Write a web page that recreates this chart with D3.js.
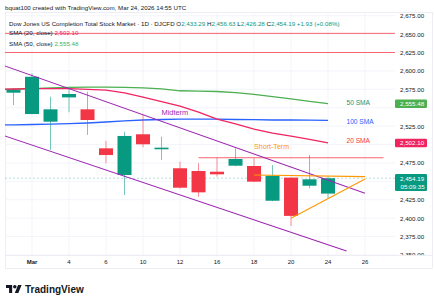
<!DOCTYPE html>
<html>
<head>
<meta charset="utf-8">
<script src="https://cdn.jsdelivr.net/npm/d3@7"></script>
<style>
  body { margin: 0; background: #fff; }
  svg { display: block; font-family: "Liberation Sans", Arial, sans-serif; }
</style>
</head>
<body>
<svg id="chart" width="434" height="300"></svg>
<script>
// trading days on the time scale (incl. the empty future slots)
var tradingDays = ["2026-02-26","2026-02-27","2026-03-02","2026-03-03","2026-03-04","2026-03-05",
  "2026-03-06","2026-03-09","2026-03-10","2026-03-11","2026-03-12","2026-03-13","2026-03-16",
  "2026-03-17","2026-03-18","2026-03-19","2026-03-20","2026-03-23","2026-03-24","2026-03-25",
  "2026-03-26","2026-03-27"];

// daily candles
var candleDates = ["2026-02-27","2026-03-02","2026-03-03","2026-03-04","2026-03-05","2026-03-06",
  "2026-03-09","2026-03-10","2026-03-11","2026-03-12","2026-03-13","2026-03-16","2026-03-17",
  "2026-03-18","2026-03-19","2026-03-20","2026-03-23","2026-03-24"];
var opens  = [2570.4, 2541.4, 2531.0, 2564.0, 2547.8, 2494.8, 2458.6, 2513.9, 2493.5, 2467.7, 2464.0, 2463.0, 2471.2, 2470.8, 2423.6, 2455.0, 2444.0, 2433.29];
var highs  = [2575.0, 2596.7, 2565.0, 2575.0, 2571.8, 2504.8, 2517.4, 2540.0, 2510.6, 2476.6, 2474.5, 2482.0, 2494.8, 2481.3, 2472.0, 2455.5, 2485.7, 2456.63];
var lows   = [2553.7, 2541.0, 2492.5, 2543.8, 2513.0, 2474.5, 2431.4, 2496.2, 2479.0, 2440.0, 2429.0, 2456.3, 2470.5, 2449.0, 2423.0, 2389.3, 2440.5, 2426.28];
var closes = [2574.0, 2592.0, 2547.8, 2568.6, 2533.3, 2485.7, 2511.6, 2500.3, 2495.7, 2441.3, 2435.0, 2459.5, 2480.3, 2449.5, 2457.6, 2403.0, 2452.7, 2454.19];

// moving averages
var smaDates = ["2026-02-26"].concat(candleDates);
var sma20  = [2575.0, 2575.4, 2576.0, 2576.0, 2576.0, 2575.0, 2574.0, 2570.0, 2564.5, 2558.4, 2552.0, 2544.0, 2534.6, 2528.0, 2521.0, 2515.6, 2511.5, 2507.0, 2502.10];
var sma50  = [2574.5, 2575.0, 2576.0, 2577.0, 2577.5, 2578.0, 2578.0, 2577.5, 2577.0, 2575.5, 2573.0, 2572.5, 2572.0, 2570.5, 2568.0, 2565.0, 2562.0, 2558.5, 2555.48];
var sma100 = [2526.5, 2526.8, 2527.2, 2527.6, 2528.3, 2529.2, 2530.6, 2532.0, 2533.3, 2534.0, 2534.6, 2534.6, 2534.4, 2534.0, 2533.7, 2533.3, 2533.3, 2533.0, 2532.9];

// drawings: [date, price] pairs
var midtermUpper   = [["2026-02-26", 2611.4], ["2026-03-26", 2433.7]];
var midtermLower   = [["2026-02-26", 2516.1], ["2026-03-25", 2355.2]];
var shortTermTop   = [["2026-03-18", 2458.6], ["2026-03-26", 2456.3]];
var shortTermBase  = [["2026-03-20", 2399.7], ["2026-03-26", 2453.1]];
var resistanceLine = [["2026-03-13", 2482.0], ["2026-03-27", 2482.0]];
var levelPrices = [2651, 2625];

// axis ticks
var priceTicks = d3.range(2350, 2676, 25);
var timeTickDates  = ["2026-03-02","2026-03-04","2026-03-06","2026-03-10","2026-03-12","2026-03-16","2026-03-18","2026-03-20","2026-03-24","2026-03-26"];
var timeTickLabels = ["Mar","4","6","10","12","16","18","20","24","26"];

(function() {
var green = "#089981", red = "#f23645";

var svg = d3.select("#chart");
var pLeft = 5, pRight = 395, pTop = 12, pBottom = 255;

function idx(d) { return tradingDays.indexOf(d); }

var x = d3.scaleLinear().domain([0.54, 21.62]).range([pLeft, pRight]);
var y = d3.scaleLinear().domain([2350, 2675]).range([254.9, 15.7]);

var defs = svg.append("defs");
defs.append("clipPath").attr("id", "plot")
  .append("rect").attr("x", pLeft).attr("y", pTop).attr("width", pRight - pLeft).attr("height", pBottom - pTop);
defs.append("clipPath").attr("id", "axis")
  .append("rect").attr("x", pRight).attr("y", pTop).attr("width", 434 - pRight).attr("height", pBottom - pTop);

// frame
svg.append("rect").attr("x", pLeft + 0.5).attr("y", pTop + 0.5).attr("width", 432 - pLeft).attr("height", 268 - pTop)
  .attr("fill", "none").attr("stroke", "#e0e3eb").attr("stroke-width", 0.6);
svg.append("line").attr("x1", pLeft).attr("x2", 432).attr("y1", pBottom + 0.5).attr("y2", pBottom + 0.5)
  .attr("stroke", "#e0e3eb").attr("stroke-width", 0.6);

// grid
var grid = svg.append("g").attr("clip-path", "url(#plot)");
grid.selectAll("line.h").data(priceTicks).enter().append("line")
  .attr("x1", pLeft).attr("x2", pRight).attr("y1", function(d) { return y(d); }).attr("y2", function(d) { return y(d); })
  .attr("stroke", "#f0f3fa").attr("stroke-width", 0.8);
grid.selectAll("line.v").data(timeTickDates).enter().append("line")
  .attr("x1", function(d) { return x(idx(d)); }).attr("x2", function(d) { return x(idx(d)); })
  .attr("y1", pTop).attr("y2", pBottom)
  .attr("stroke", "#f0f3fa").attr("stroke-width", 0.8);

var plot = svg.append("g").attr("clip-path", "url(#plot)");

function seg(g, pts, color, w) {
  g.append("line")
    .attr("x1", x(idx(pts[0][0]))).attr("y1", y(pts[0][1]))
    .attr("x2", x(idx(pts[1][0]))).attr("y2", y(pts[1][1]))
    .attr("stroke", color).attr("stroke-width", w);
}

// horizontal levels
plot.selectAll("line.level").data(levelPrices).enter().append("line")
  .attr("x1", pLeft).attr("x2", pRight).attr("y1", function(d) { return y(d); }).attr("y2", function(d) { return y(d); })
  .attr("stroke", "#f7525f").attr("stroke-width", 0.9);
seg(plot, resistanceLine, "#f7525f", 0.9);

// current price line
var last = closes[closes.length - 1];
plot.append("line").attr("x1", pLeft).attr("x2", pRight)
  .attr("y1", y(last)).attr("y2", y(last))
  .attr("stroke", green).attr("stroke-width", 0.6).attr("stroke-dasharray", "2,2").attr("opacity", 0.5);

// moving averages
function smaLine(vals, color) {
  var line = d3.line().x(function(d, i) { return x(idx(smaDates[i])); }).y(function(d) { return y(d); });
  plot.append("path").attr("d", line(vals)).attr("fill", "none").attr("stroke", color).attr("stroke-width", 1.3);
}
smaLine(sma100, "#2962ff");
smaLine(sma50, "#4caf50");
smaLine(sma20, "#f0245f");

// candles
var bw = 14;
var cd = plot.selectAll("g.candle").data(candleDates).enter().append("g");
cd.append("line")
  .attr("x1", function(d) { return x(idx(d)); }).attr("x2", function(d) { return x(idx(d)); })
  .attr("y1", function(d, i) { return y(highs[i]); }).attr("y2", function(d, i) { return y(lows[i]); })
  .attr("stroke", function(d, i) { return closes[i] >= opens[i] ? green : red; })
  .attr("stroke-width", 1).attr("opacity", 0.55);
cd.append("rect")
  .attr("x", function(d) { return x(idx(d)) - bw / 2; })
  .attr("width", bw)
  .attr("y", function(d, i) { return y(Math.max(opens[i], closes[i])); })
  .attr("height", function(d, i) { return Math.max(1.2, Math.abs(y(opens[i]) - y(closes[i]))); })
  .attr("fill", function(d, i) { return closes[i] >= opens[i] ? green : red; });

// trend lines
seg(plot, midtermUpper, "#9c27b0", 1.1);
seg(plot, midtermLower, "#9c27b0", 1.1);
seg(plot, shortTermTop, "#ff9800", 1.1);
seg(plot, shortTermBase, "#ff9800", 1.1);

// drawing labels
function note(txt, d, p, color, size) {
  plot.append("text").attr("x", x(idx(d))).attr("y", y(p)).attr("dominant-baseline", "central")
    .attr("font-size", size).attr("fill", color).text(txt);
}
note("Midterm", "2026-03-11", 2544, "#9c27b0", 7.4);
note("Short-Term", "2026-03-18", 2496.6, "#ff9800", 7.1);
note("50 SMA", "2026-03-25", 2557.3, green, 6.6);
note("100 SMA", "2026-03-25", 2531, "#2962ff", 6.6);
note("20 SMA", "2026-03-25", 2504.8, red, 6.6);

// price axis
var fmt = d3.format(",.2f");
var boxes = [
  { v: sma50[sma50.length - 1], c: "#4caf50" },
  { v: sma20[sma20.length - 1], c: "#f0245f" },
  { v: last, c: green, extra: "05:09:35" }
];
var axis = svg.append("g").attr("clip-path", "url(#axis)");
var visibleTicks = priceTicks.filter(function(t) {
  return !boxes.some(function(b) {
    var dy = y(t) - y(b.v);
    return dy > -8 && dy < (b.extra ? 15 : 7);
  });
});
axis.selectAll("text.tick").data(visibleTicks).enter().append("text")
  .attr("x", 400).attr("y", function(d) { return y(d); }).attr("dominant-baseline", "central")
  .attr("font-size", 6.2).attr("fill", "#131722").text(function(d) { return fmt(d); });

boxes.forEach(function(b) {
  var cy = y(b.v);
  axis.append("rect").attr("x", 395).attr("y", cy - 4.25).attr("width", 32).attr("height", b.extra ? 17 : 8.5)
    .attr("rx", 1.2).attr("fill", b.c);
  axis.append("text").attr("x", 400).attr("y", cy).attr("dominant-baseline", "central")
    .attr("font-size", 6.2).attr("fill", "#fff").text(fmt(b.v));
  if (b.extra) {
    axis.append("text").attr("x", 400.5).attr("y", cy + 8.3).attr("dominant-baseline", "central")
      .attr("font-size", 6.2).attr("fill", "#fff").text(b.extra);
  }
});

// time axis
svg.selectAll("text.t").data(timeTickDates).enter().append("text")
  .attr("x", function(d) { return x(idx(d)); }).attr("y", 262).attr("dominant-baseline", "central")
  .attr("text-anchor", "middle").attr("font-size", 6)
  .attr("font-weight", function(d, i) { return i === 0 ? "bold" : "normal"; })
  .attr("fill", "#131722").text(function(d, i) { return timeTickLabels[i]; });

// header / legend
svg.append("text").attr("x", 5).attr("y", 7).attr("dominant-baseline", "central")
  .attr("font-size", 6.2).attr("fill", "#131722")
  .text("bquat100 created with TradingView.com, Mar 24, 2026 14:55 UTC");

var leg = svg.append("text").attr("x", 9).attr("y", 22.7).attr("dominant-baseline", "central")
  .attr("font-size", 6.2).attr("fill", "#131722");
leg.append("tspan").text("Dow Jones US Completion Total Stock Market \u00b7 1D \u00b7 DJCFD  O");
leg.append("tspan").attr("fill", green).text(fmt(opens[opens.length - 1]));
leg.append("tspan").text("  H");
leg.append("tspan").attr("fill", green).text(fmt(highs[highs.length - 1]));
leg.append("tspan").text("  L");
leg.append("tspan").attr("fill", green).text(fmt(lows[lows.length - 1]));
leg.append("tspan").text("  C");
leg.append("tspan").attr("fill", green).text(fmt(last) + "  +1.93 (+0.08%)");

var l20 = svg.append("text").attr("x", 9).attr("y", 32.3).attr("dominant-baseline", "central")
  .attr("font-size", 6.2).attr("fill", "#131722");
l20.append("tspan").text("SMA (20, close)  ");
l20.append("tspan").attr("fill", "#f0245f").text(fmt(sma20[sma20.length - 1]));
var l50 = svg.append("text").attr("x", 9).attr("y", 42.7).attr("dominant-baseline", "central")
  .attr("font-size", 6.2).attr("fill", "#131722");
l50.append("tspan").text("SMA (50, close)  ");
l50.append("tspan").attr("fill", "#4caf50").text(fmt(sma50[sma50.length - 1]));

// TradingView logo
var logo = svg.append("g").attr("transform", "translate(6,283.2) scale(0.44)").attr("fill", "#131722");
logo.append("path").attr("d", "M14 22H7V11H0V4h14v18zM28 22h-8l7.5-18h8L28 22z");
logo.append("circle").attr("cx", 20).attr("cy", 8).attr("r", 4);
svg.append("text").attr("x", 25).attr("y", 289).attr("dominant-baseline", "central")
  .attr("font-size", 10).attr("font-weight", 600).attr("fill", "#131722").text("TradingView");
})();
</script>
</body>
</html>
